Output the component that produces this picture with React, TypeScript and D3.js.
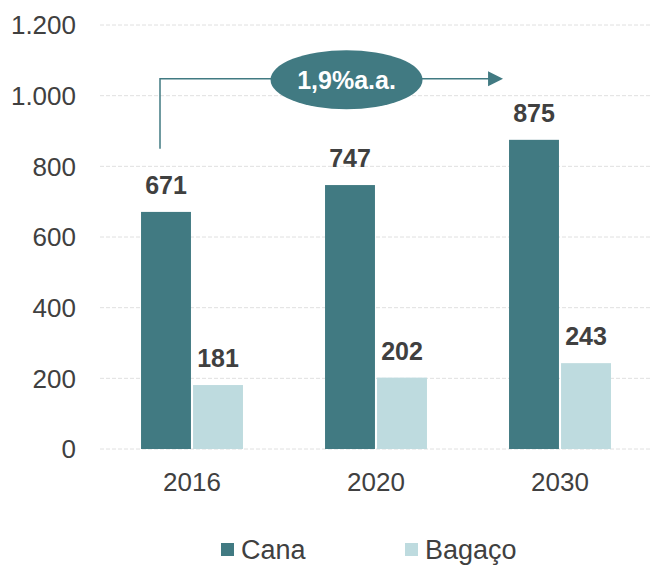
import React from "react";
import * as d3 from "d3";

const years = ["2016", "2020", "2030"];
const series = ["Cana", "Bagaço"];
const cana = [671, 747, 875];
const bagaco = [181, 202, 243];
const yTicks = [0, 200, 400, 600, 800, 1000, 1200];
const growthLabel = "1,9%a.a.";

const colors = ["#417a82", "#bedbdf"];
const textColor = "#404040";

export default function App() {
  const width = 652;
  const height = 566;

  const x = d3.scaleBand().domain(years).range([100, 652]).paddingInner(0.446).paddingOuter(0.223);
  const xs = d3.scaleBand().domain(series).range([0, x.bandwidth()]).paddingInner(0.04);
  const y = d3.scaleLinear().domain([0, 1200]).range([449, 25]);
  const fmt = (v: number) => d3.format(",")(v).replace(/,/g, ".");

  const values = [cana, bagaco];

  // annotation path: from above first bar, up, across to the last bar
  const ax0 = (x("2016") ?? 0) + xs.bandwidth() * 0.38;
  const ax1 = (x("2030") ?? 0) - 6;
  const ay = y(1048);
  const ayStart = y(850);
  const ex = (ax0 + ax1) / 2 + 15;

  return (
    <svg width={width} height={height} style={{ position: "absolute", left: 0, top: 0 }}
      fontFamily="'Liberation Sans', Arial, sans-serif">
      {yTicks.map((t) => (
        <g key={t}>
          <line x1={100} x2={652} y1={y(t)} y2={y(t)} stroke="#e0e0e0" strokeDasharray="4,2" strokeWidth={1} />
          <text x={76} y={y(t)} dy="0.36em" textAnchor="end" fontSize={26} fill={textColor}>{fmt(t)}</text>
        </g>
      ))}
      {years.map((yr, i) => (
        <g key={yr} transform={`translate(${x(yr)},0)`}>
          {series.map((s, j) => {
            const v = values[j][i];
            const bx = xs(s) ?? 0;
            return (
              <g key={s}>
                <rect x={bx} y={y(v)} width={xs.bandwidth()} height={y(0) - y(v)} fill={colors[j]} />
                <text x={bx + xs.bandwidth() / 2} y={y(v) - 18} textAnchor="middle" fontSize={25}
                  fontWeight="bold" fill={textColor}>{v}</text>
              </g>
            );
          })}
          <text x={x.bandwidth() / 2} y={491} textAnchor="middle" fontSize={26} fill={textColor}>{yr}</text>
        </g>
      ))}
      <path d={`M${ax0},${ayStart}V${ay}H${ax1 - 14}`} fill="none" stroke={colors[0]} strokeWidth={1.5} />
      <path d={`M${ax1 - 15},${ay - 7.5}L${ax1},${ay}L${ax1 - 15},${ay + 7.5}Z`} fill={colors[0]} />
      <ellipse cx={ex} cy={ay + 1} rx={76} ry={29.5} fill={colors[0]} />
      <text x={ex} y={ay + 1} dy="0.36em" textAnchor="middle" fontSize={25} fontWeight="bold" fill="#ffffff">{growthLabel}</text>
      {series.map((s, j) => {
        const lx = j === 0 ? 221 : 405;
        return (
          <g key={s}>
            <rect x={lx} y={543} width={13} height={13} fill={colors[j]} />
            <text x={lx + 20} y={559} fontSize={27} fill={textColor}>{s}</text>
          </g>
        );
      })}
    </svg>
  );
}
